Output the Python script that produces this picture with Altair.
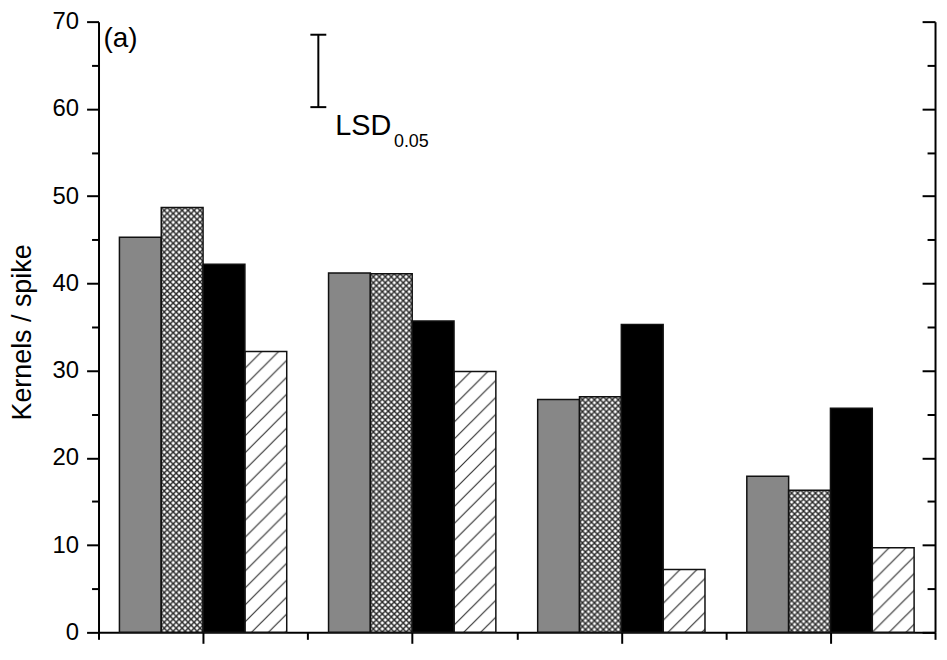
import base64
import altair as alt
import pandas as pd

# ---------------- data ----------------
groups = ["1", "2", "3", "4"]
series = ["A", "B", "C", "D"]
vals_A = [45.3, 41.2, 26.7, 17.9]   # grey
vals_B = [48.7, 41.1, 27.0, 16.3]   # cross-hatched
vals_C = [42.2, 35.7, 35.3, 25.7]   # black
vals_D = [32.2, 29.9, 7.2, 9.7]     # diagonal hatch
lsd_low = [60.2]
lsd_high = [68.5]
y_title = "Kernels / spike"
panel_label = "(a)"
lsd_text = "LSD"
lsd_sub = "0.05"

rows = []
for s, vals in zip(series, [vals_A, vals_B, vals_C, vals_D]):
    for g, v in zip(groups, vals):
        rows.append({"group": g, "series": s, "value": v})
df = pd.DataFrame(rows)
lsd_df = pd.DataFrame({"lo": lsd_low, "hi": lsd_high})

W, H = 841, 614
FONT = "Liberation Sans"


def svg_uri(svg):
    return "data:image/svg+xml;base64," + base64.b64encode(svg.encode()).decode()


cross_svg = (
    '<svg xmlns="http://www.w3.org/2000/svg" width="100%" height="100%">'
    '<defs><pattern id="p" width="6" height="6" patternUnits="userSpaceOnUse">'
    '<path d="M-1,-1 L7,7 M7,-1 L-1,7" stroke="#2a2a2a" stroke-width="1.5" fill="none"/>'
    '</pattern></defs><rect width="100%" height="100%" fill="url(#p)"/></svg>'
)
diag_svg = (
    '<svg xmlns="http://www.w3.org/2000/svg" width="100%" height="100%">'
    '<defs><pattern id="p" width="17" height="17" patternUnits="userSpaceOnUse">'
    '<path d="M-4,4 L4,-4 M0,17 L17,0 M13,21 L21,13" stroke="#333" stroke-width="1.2" fill="none"/>'
    '</pattern></defs><rect width="100%" height="100%" fill="url(#p)"/></svg>'
)

yscale = alt.Scale(domain=[0, 70], nice=False, zero=True)
xband = alt.Scale(domain=groups, paddingInner=0, paddingOuter=0)
offscale = alt.Scale(domain=series, paddingInner=0, paddingOuter=0.5)

major_y = {"condition": {"test": "datum.value % 10 === 0", "value": 12}, "value": 7}
major_y_r = {"condition": {"test": "datum.value % 10 === 0", "value": 13}, "value": 8}
major_x = {"condition": {"test": "datum.value % 1 !== 0", "value": 11}, "value": 7}

left_axis = alt.Axis(
    values=list(range(0, 75, 5)),
    tickSize=major_y,
    labelExpr="datum.value % 10 === 0 ? datum.label : ''",
    labelFontSize=24,
    labelFont=FONT,
    labelColor="black",
    labelPadding=8,
    grid=False,
    domainColor="black",
    domainWidth=2,
    tickColor="black",
    tickWidth=2,
    title=y_title,
    titleFont=FONT,
    titleFontSize=27,
    titleFontWeight="normal",
    titleColor="black",
    titleX=-68,
    titleY=312,
    titleBaseline="alphabetic",
    orient="left",
)

right_axis = alt.Axis(
    values=list(range(0, 75, 5)),
    tickSize=major_y_r,
    labels=False,
    grid=False,
    domainColor="black",
    domainWidth=2,
    tickColor="black",
    tickWidth=2,
    title=None,
    orient="left",
    offset=-W,
)

base = alt.Chart(df).encode(
    x=alt.X("group:N", scale=xband, axis=None, sort=groups),
    xOffset=alt.XOffset("series:N", scale=offscale, sort=series),
)

bars_fill = base.mark_bar(strokeWidth=0).encode(
    y=alt.Y("value:Q", scale=yscale, axis=left_axis),
    color=alt.Color(
        "series:N",
        scale=alt.Scale(domain=series, range=["#878787", "#ffffff", "#000000", "#ffffff"]),
        legend=None,
    ),
)

img_cross = base.mark_image(aspect=False).encode(
    y=alt.Y("value:Q", scale=yscale, axis=None),
    y2=alt.datum(0),
    url=alt.value(svg_uri(cross_svg)),
).transform_filter(alt.datum.series == "B")

img_diag = base.mark_image(aspect=False).encode(
    y=alt.Y("value:Q", scale=yscale, axis=None),
    y2=alt.datum(0),
    url=alt.value(svg_uri(diag_svg)),
).transform_filter(alt.datum.series == "D")

bars_outline = base.mark_bar(fillOpacity=0, stroke="#111111", strokeWidth=1.5).encode(
    y=alt.Y("value:Q", scale=yscale, axis=right_axis),
)

xticks_df = pd.DataFrame({"q": [0, 4]})
x_axis_layer = alt.Chart(xticks_df).mark_point(opacity=0).encode(
    x=alt.X(
        "q:Q",
        scale=alt.Scale(domain=[0, 4], nice=False, zero=False),
        axis=alt.Axis(
            values=[i * 0.5 for i in range(9)],
            tickSize=major_x,
            labels=False,
            grid=False,
            domainColor="black",
            domainWidth=2,
            tickColor="black",
            tickWidth=2,
            title=None,
            orient="bottom",
        ),
    )
)

lsd_line = alt.Chart(lsd_df).mark_rule(color="black", strokeWidth=2).encode(
    x=alt.value(221),
    y=alt.Y("lo:Q", scale=yscale, axis=None),
    y2="hi:Q",
)
lsd_cap_lo = alt.Chart(lsd_df).mark_rule(color="black", strokeWidth=2).encode(
    x=alt.value(213), x2=alt.value(229),
    y=alt.Y("lo:Q", scale=yscale, axis=None),
)
lsd_cap_hi = alt.Chart(lsd_df).mark_rule(color="black", strokeWidth=2).encode(
    x=alt.value(213), x2=alt.value(229),
    y=alt.Y("hi:Q", scale=yscale, axis=None),
)

txt_a = alt.Chart(pd.DataFrame({"t": [panel_label]})).mark_text(
    align="left", baseline="alphabetic", font=FONT, fontSize=28, color="black"
).encode(x=alt.value(5), y=alt.value(26), text="t:N")

txt_lsd = alt.Chart(pd.DataFrame({"t": [lsd_text]})).mark_text(
    align="left", baseline="alphabetic", font=FONT, fontSize=29, color="black"
).encode(x=alt.value(238), y=alt.value(114), text="t:N")

txt_sub = alt.Chart(pd.DataFrame({"t": [lsd_sub]})).mark_text(
    align="left", baseline="alphabetic", font=FONT, fontSize=18, color="black"
).encode(x=alt.value(297), y=alt.value(126), text="t:N")

chart = (
    alt.layer(
        bars_fill, img_cross, img_diag, bars_outline, x_axis_layer,
        lsd_line, lsd_cap_lo, lsd_cap_hi, txt_a, txt_lsd, txt_sub,
    )
    .resolve_scale(x="independent")
    .resolve_axis(y="independent", x="independent")
    .properties(
        width=W,
        height=H,
        autosize=alt.AutoSizeParams(type="none"),
        padding={"left": 91, "top": 12, "right": 4, "bottom": 10},
        background="white",
    )
    .configure_view(stroke=None)
)

chart.save("out.html", embed_options={"renderer": "svg", "actions": False})
